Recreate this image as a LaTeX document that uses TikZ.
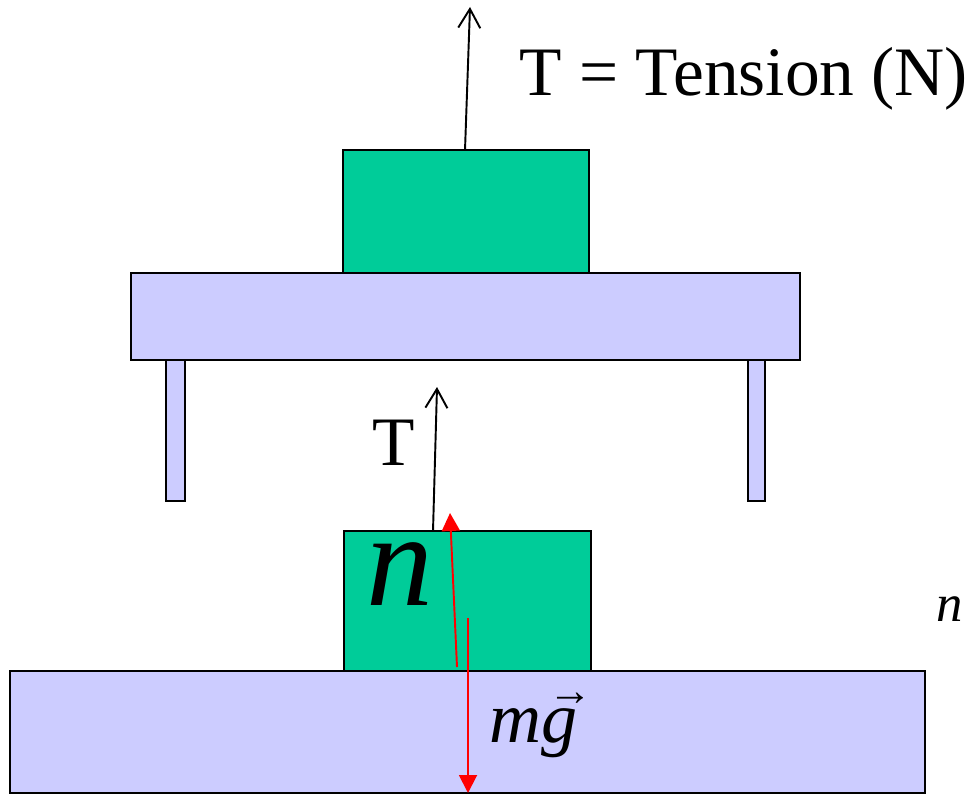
\documentclass[tikz,border=0pt]{standalone}
\usepackage{fontspec}
\newfontfamily\serifface{Liberation Serif}
\usetikzlibrary{arrows.meta}
\definecolor{blockgreen}{RGB}{0,204,153}
\definecolor{tablelilac}{RGB}{204,204,255}
\newcommand{\labelsize}{\fontsize{39.5}{47}\selectfont}
\newcommand{\bigsize}{\fontsize{76}{80}\selectfont}
\newcommand{\smallsize}{\fontsize{30}{36}\selectfont}
\newcommand{\weightsize}{\fontsize{41}{49}\selectfont}
\tikzset{
  board/.style={draw=black, line width=1.1pt, fill=tablelilac},
  block/.style={draw=black, line width=1.1pt, fill=blockgreen},
  rope/.style={line width=1.1pt,
    -{Straight Barb[length=0.38cm, width=0.44cm, line width=1.1pt]}},
  force/.style={red, line width=1.1pt, -{Triangle[length=0.36cm, width=0.36cm]}},
  textlabel/.style={inner sep=0pt, anchor=base west},
}

\begin{document}
\begin{tikzpicture}[x=0.02cm, y=-0.02cm]
  \useasboundingbox (0,0) rectangle (972,794);
  % table with the upper block
  \draw[board] (131,273) rectangle (800,360);
  \draw[board] (166,360) rectangle (185,501);
  \draw[board] (748,360) rectangle (765,501);
  \draw[block] (343,150) rectangle (589,273);
  % floor with the lower block
  \draw[board] (10,671) rectangle (925,793);
  \draw[block] (344,531) rectangle (591,671);
  % tension on the upper block
  \coordinate (upper rope) at (465,150);
  \coordinate (upper end) at (470,7);
  \draw[rope] (upper rope) -- (upper end);
  \node[textlabel, font=\labelsize] (tension) at (519,95) {\serifface T = Tension (N)};
  % forces on the lower block
  \coordinate (lower rope) at (433,531);
  \coordinate (lower end) at (437,387);
  \draw[rope] (lower rope) -- (lower end);
  \node[textlabel, font=\labelsize] (T) at (372,465) {\serifface T};
  \coordinate (normal start) at (457,667);
  \coordinate (normal end) at (450,513);
  \draw[force] (normal start) -- (normal end);
  \coordinate (weight start) at (468,618);
  \coordinate (weight end) at (468,793);
  \draw[force] (weight start) -- (weight end);
  \node[textlabel, font=\bigsize] (n big) at (366,605) {\serifface\itshape n};
  \node[textlabel, font=\weightsize] (mg) at (489,742)
    {\serifface\itshape m\rlap{\raisebox{0.5em}{\hspace{0.1em}\upshape\fontsize{25}{25}\selectfont →}}g};
  \node[textlabel, font=\smallsize] (n small) at (936,621) {\serifface\itshape n};
\end{tikzpicture}
\end{document}
